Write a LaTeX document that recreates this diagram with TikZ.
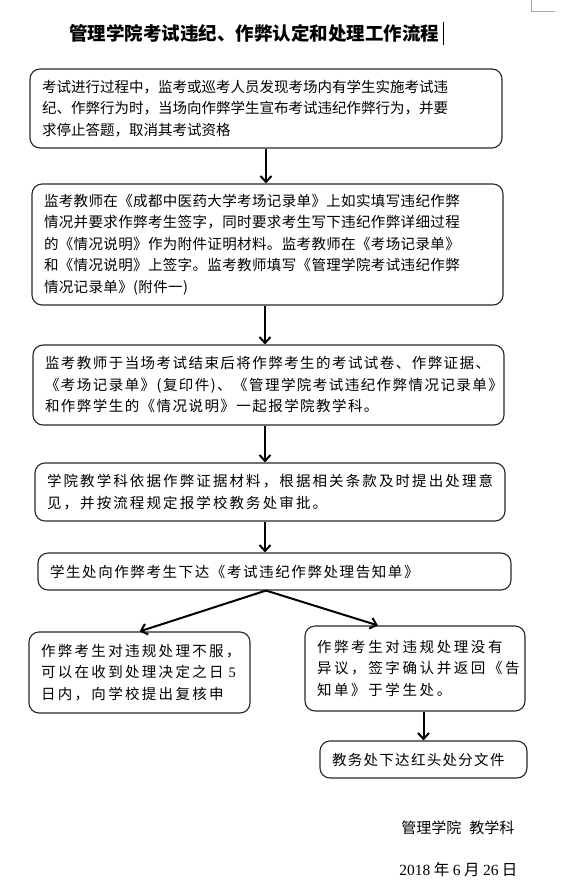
\documentclass[tikz,border=0pt]{standalone}
\usepackage{fontspec}
\setmainfont{Noto Sans CJK SC}
\newfontfamily\numfont{Liberation Serif}
\usepackage{tikz}
\usetikzlibrary{arrows.meta, positioning, calc}

\begin{document}
\begin{tikzpicture}[x=1pt, y=-1pt,
    flowbox/.style={draw=black!85, line width=1.1pt, rounded corners=10pt,
        inner xsep=12pt, inner ysep=4pt, align=left,
        font=\fontsize{14.5}{21.5}\selectfont},
    charspread/.style={font=\fontsize{14.5}{21.5}\selectfont\addfontfeatures{LetterSpace=#1}},
    flowarrow/.style={line width=2pt,
        -{Straight Barb[length=6pt, width=11pt, line width=2pt]}}]
    \useasboundingbox (0,0) rectangle (570,883);

    % Page corner mark
    \draw[gray!70, line width=0.8pt] (531,0) -- (531,11.5) -- (555,11.5);

    % Title
    \node[font=\fontsize{18.5}{22}\selectfont\bfseries] (title) at (254,33)
        {管理学院考试违纪、作弊认定和处理工作流程};
    \draw[line width=1pt] (443,22) -- (443,45);

    % Main steps
    \node[flowbox, text width=448pt, minimum height=79pt] (found) at (266,108.5)
        {考试进行过程中，监考或巡考人员发现考场内有学生实施考试违\\
         纪、作弊行为时，当场向作弊学生宣布考试违纪作弊行为，并要\\
         求停止答题，取消其考试资格};
    \node[flowbox, charspread=2.5, text width=447pt, minimum height=121pt] (record) at (267.5,244.5)
        {监考教师在《成都中医药大学考场记录单》上如实填写违纪作弊\\
         情况并要求作弊考生签字，同时要求考生写下违纪作弊详细过程\\
         的《情况说明》作为附件证明材料。监考教师在《考场记录单》\\
         和《情况说明》上签字。监考教师填写《管理学院考试违纪作弊\\
         情况记录单》(附件一)};
    \node[flowbox, charspread=10, text width=447pt, minimum height=80pt] (report) at (268.5,385)
        {监考教师于当场考试结束后将作弊考生的考试试卷、作弊证据、\\
         《考场记录单》(复印件)、《管理学院考试违纪作弊情况记录单》\\
         和作弊学生的《情况说明》一起报学院教学科。};
    \node[flowbox, charspread=14.5, text width=446pt, minimum height=58pt] (opinion) at (270,492)
        {学院教学科依据作弊证据材料，根据相关条款及时提出处理意\\
         见，并按流程规定报学校教务处审批。};
    \node[flowbox, charspread=11, text width=449pt, minimum height=37pt] (notice) at (274.5,571.5)
        {学生处向作弊考生下达《考试违纪作弊处理告知单》};

    % Two outcomes
    \node[flowbox, charspread=16, text width=197pt, minimum height=81pt] (appeal) at (139.5,672.5)
        {作弊考生对违规处理不服，\\
         可以在收到处理决定之日 {\numfont 5}\\
         日内，向学校提出复核申};
    \node[flowbox, charspread=18, text width=196pt, minimum height=85pt] (accept) at (415,668.5)
        {作弊考生对违规处理没有\\
         异议，签字确认并返回《告\\
         知单》于学生处。};
    \node[flowbox, charspread=9, text width=183pt, minimum height=37pt] (penalty) at (423.5,759.5)
        {教务处下达红头处分文件};

    % Arrows
    \draw[flowarrow] (266,0 |- found.south) -- (266,0 |- record.north);
    \draw[flowarrow] (265,0 |- record.south) -- (265,0 |- report.north);
    \draw[flowarrow] (265,0 |- report.south) -- (265,0 |- opinion.north);
    \draw[flowarrow] (265,0 |- opinion.south) -- (265,0 |- notice.north);
    \coordinate (split) at ([xshift=-8.5pt]notice.south);
    \draw[flowarrow] (split) -- (appeal.north);
    \draw[flowarrow] (split) -- ([xshift=-37pt]accept.north);
    \draw[flowarrow] (penalty.north |- accept.south) -- (penalty.north);

    % Footer
    \node[anchor=east, font=\fontsize{15}{18}\selectfont] (dept) at (518,828)
        {管理学院\hspace{8pt}教学科};
    \node[anchor=east, font=\fontsize{15.5}{18}\selectfont] (date) at (521,870)
        {{\numfont 2018} 年 {\numfont 6} 月 {\numfont 26} 日};
\end{tikzpicture}
\end{document}
